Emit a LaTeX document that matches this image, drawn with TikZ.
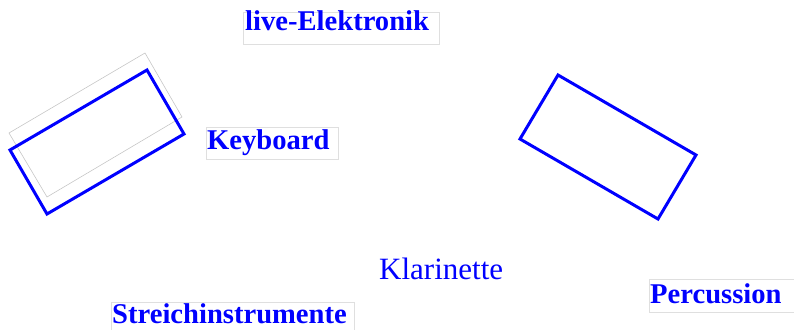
\documentclass[tikz,border=0pt]{standalone}
\usepackage{fontspec}
\setmainfont{Liberation Serif}
\usetikzlibrary{calc, positioning}

\tikzset{
  stage/.style={draw=blue, line width=3pt, line join=miter},
  shadow/.style={draw=gray!45, line width=0.6pt},
  tagbox/.style={draw=gray!25, line width=0.8pt},
  tag/.style={text=blue, inner sep=0pt, anchor=base west,
    font=\fontsize{28.6}{30}\selectfont\bfseries},
  solo/.style={text=blue, inner sep=0pt, anchor=base west,
    font=\fontsize{31}{33}\selectfont}
}

\begin{document}
\begin{tikzpicture}[x=1pt, y=-1pt]
\useasboundingbox (0,0) rectangle (794,329);

% keyboard platform and its outline
\coordinate (Ka) at (10,150);
\coordinate (Kb) at (147,70);
\coordinate (Kc) at (184,134);
\coordinate (Kd) at (47,214);
\coordinate (Ga) at (9,133);
\coordinate (Gb) at (145,53);
\coordinate (Gc) at (182,117);
\coordinate (Gd) at (47,197);
\draw[shadow] (Ga) -- (Gb) -- (Gc) -- (Gd) -- cycle;
\draw[stage] (Ka) -- (Kb) -- (Kc) -- (Kd) -- cycle;

% percussion platform
\coordinate (Pa) at (558,75);
\coordinate (Pb) at (696,155);
\coordinate (Pc) at (658,219);
\coordinate (Pd) at (520,139);
\draw[stage] (Pa) -- (Pb) -- (Pc) -- (Pd) -- cycle;

% label frames
\draw[tagbox] (243,12) rectangle (439,44);
\draw[tagbox] (206,127) rectangle (338,159);
\draw[tagbox] (111,302) rectangle (354,335);
\draw[tagbox] (649,279) rectangle (800,312);

\node[tag] (elektronik) at (245,31) {live-Elektronik};
\node[tag] (keyboard) at (207,149) {Keyboard};
\node[tag] (streicher) at (112,323) {Streichinstrumente};
\node[tag] (percussion) at (650,303) {Percussion};
\node[solo] (klarinette) at (379,279) {Klarinette};
\end{tikzpicture}
\end{document}
